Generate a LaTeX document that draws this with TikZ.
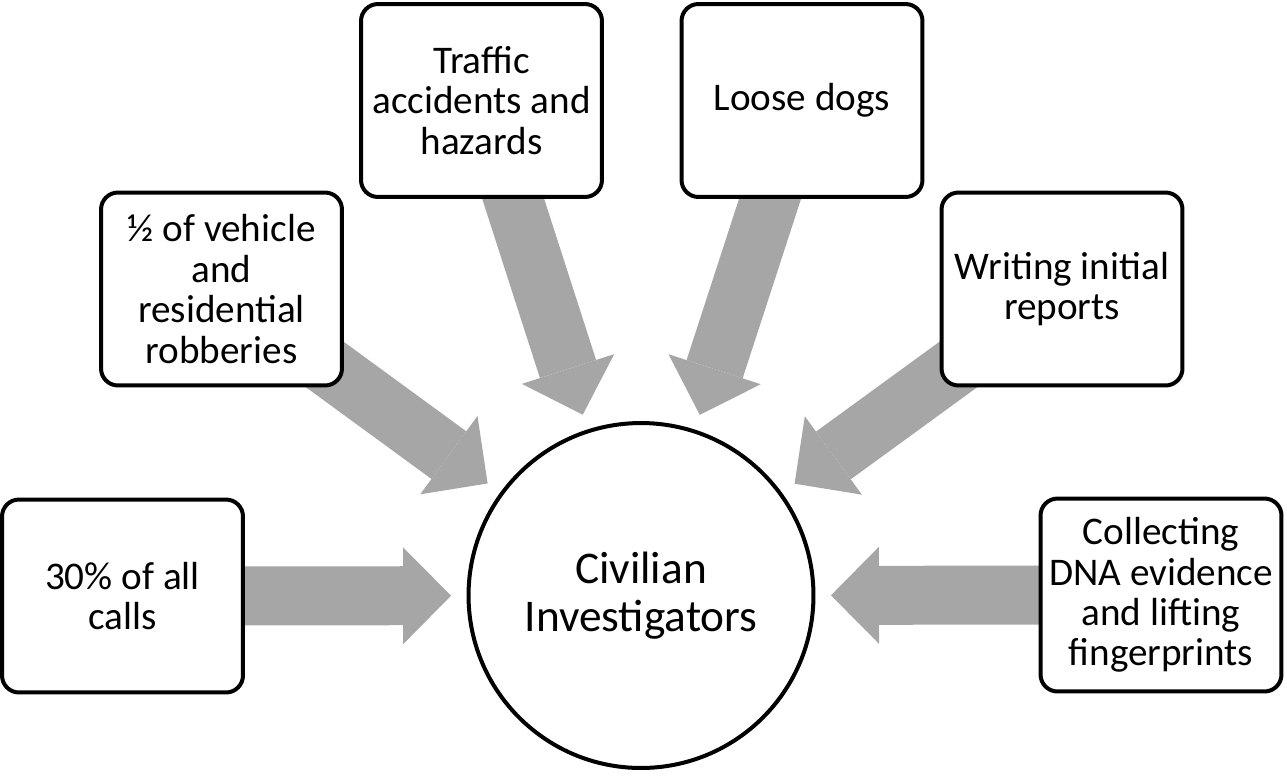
\documentclass[tikz,border=0pt]{standalone}
\usepackage{fontspec}
\setmainfont{Carlito}
\usetikzlibrary{arrows.meta, calc, backgrounds}
\definecolor{arrowgray}{RGB}{166,166,166}

\begin{document}
\begin{tikzpicture}[
  x=0.02cm, y=-0.02cm,
  task/.style={draw, rounded corners=0.34cm, line width=0.08cm, fill=white,
    minimum width=4.82cm, minimum height=3.86cm, align=center, inner sep=2pt,
    font=\fontsize{22.3}{23}\selectfont},
  hub/.style={draw, circle, line width=0.08cm, fill=white, minimum size=6.9cm,
    align=center, font=\fontsize{25.8}{27.5}\selectfont},
  feed/.style={arrowgray, line width=1.18cm,
    -{Triangle[length=0.96cm, width=1.94cm, line width=0pt]}}
]
\useasboundingbox (0,0) rectangle (1287,775);
\node[hub] (civ) at (641,595.5) {Civilian\\Investigators};
\node[task] (calls) at (122.5,596) {30\% of all\\calls};
\node[task] (robbery) at (221.5,289) {½ of vehicle\\and\\residential\\robberies};
\node[task] (traffic) at (481.5,100.5) {Traffic\\accidents and\\hazards};
\node[task] (dogs) at (802,100.5) {Loose dogs};
\node[task] (reports) at (1062,289) {Writing initial\\reports};
\node[task] (dna) at (1161,595) {Collecting\\DNA evidence\\and lifting\\fingerprints};

\begin{scope}[on background layer]
\draw[feed] (calls.center) -- ($(civ.center)!3.8cm!(calls.center)$);
\draw[feed] (robbery.center) -- ($(civ.center)!3.8cm!(robbery.center)$);
\draw[feed] (traffic.center) -- ($(civ.center)!3.8cm!(traffic.center)$);
\draw[feed] (dogs.center) -- ($(civ.center)!3.8cm!(dogs.center)$);
\draw[feed] (reports.center) -- ($(civ.center)!3.8cm!(reports.center)$);
\draw[feed] (dna.center) -- ($(civ.center)!3.8cm!(dna.center)$);
\end{scope}
\end{tikzpicture}
\end{document}
